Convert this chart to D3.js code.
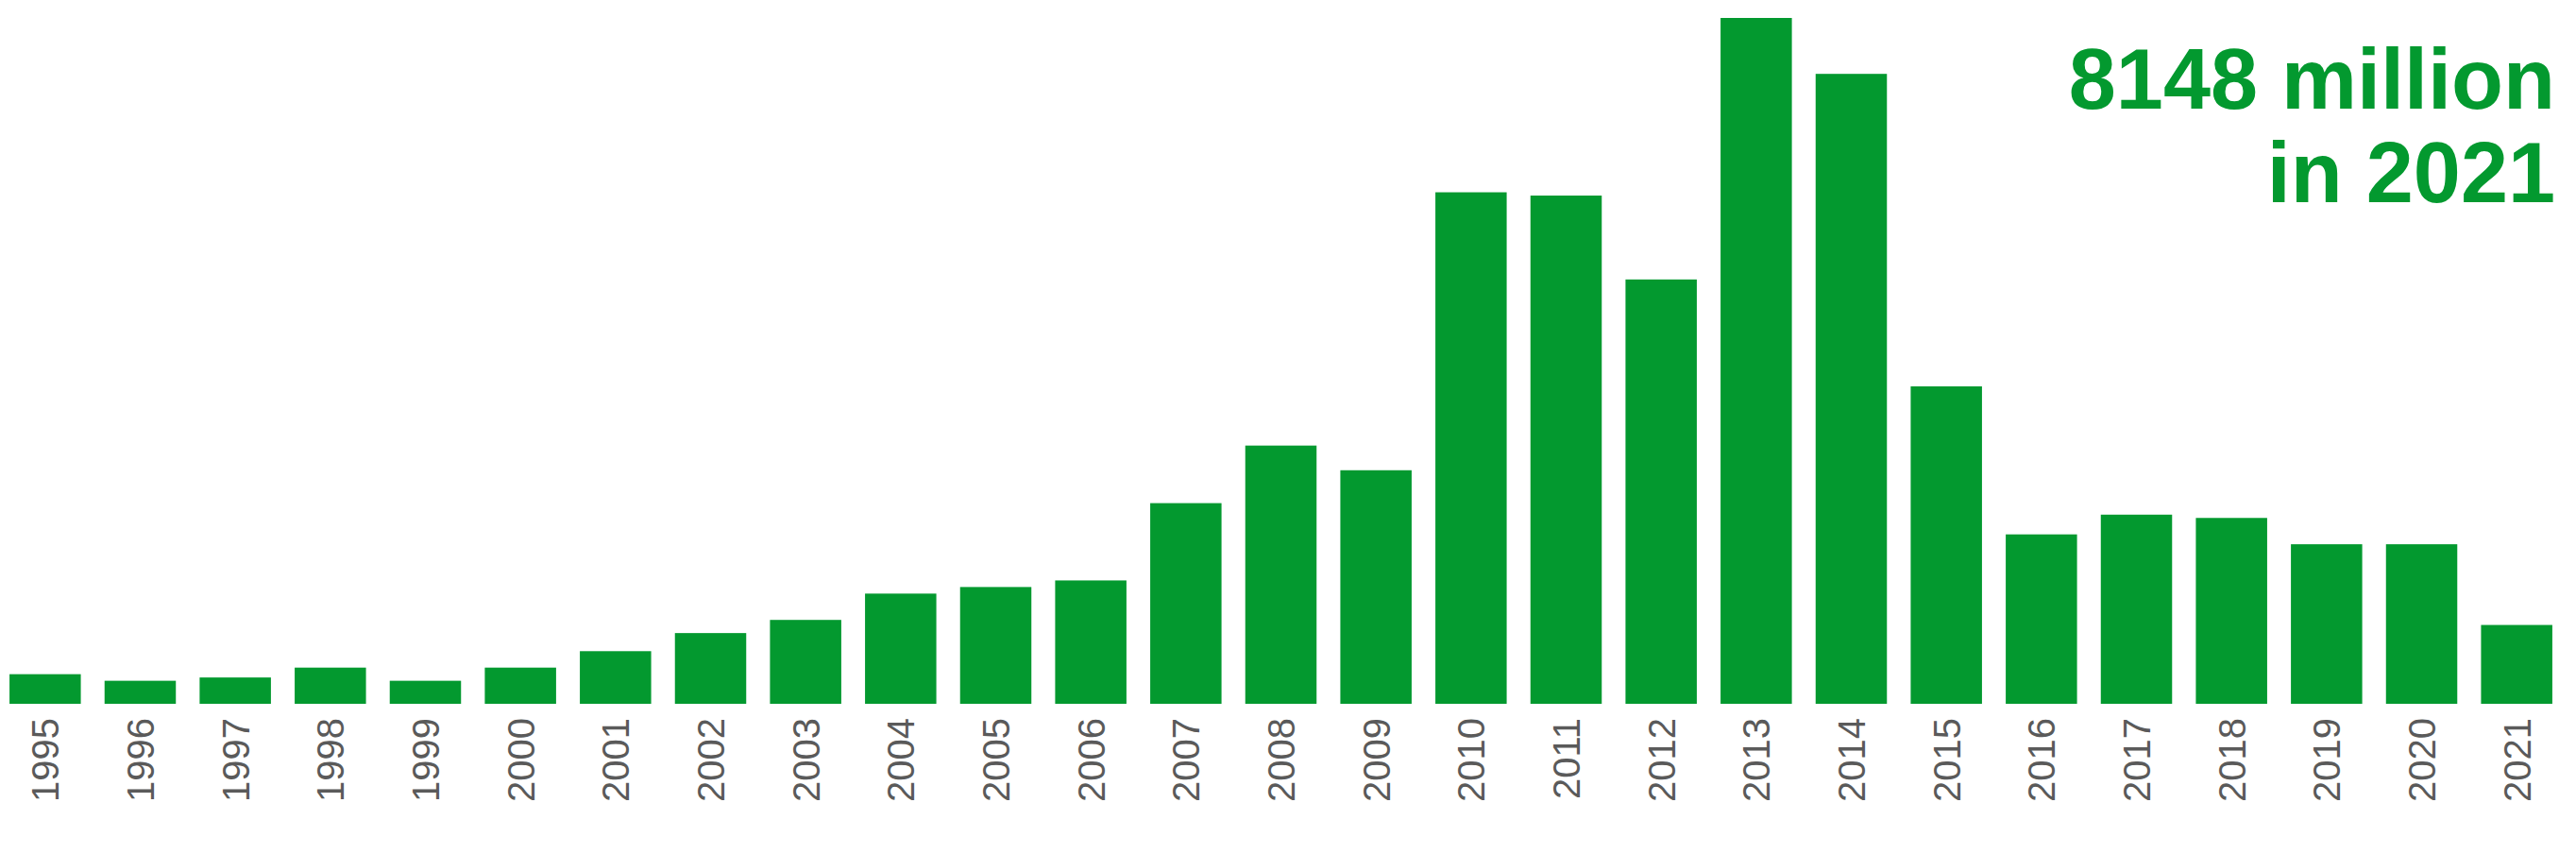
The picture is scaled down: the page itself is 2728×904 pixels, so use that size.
<!DOCTYPE html>
<html>
<head>
<meta charset="utf-8">
<script src="https://cdn.jsdelivr.net/npm/d3@7"></script>
<style>
  body { margin: 0; background: #fff; }
  text { font-family: "Liberation Sans", Arial, sans-serif; }
</style>
</head>
<body>
<svg id="chart" width="2728" height="904"></svg>
<script>
'use strict';

const years = ["1995","1996","1997","1998","1999","2000","2001","2002","2003","2004","2005","2006","2007",
    "2008","2009","2010","2011","2012","2013","2014","2015","2016","2017","2018","2019","2020","2021"];
// millions (2021 = 8148)
const values = [3060, 2380, 2720, 3740, 2380, 3740, 5440, 7310, 8670, 11390, 12070, 12750, 20740,
    26690, 24140, 52870, 52530, 43860, 70890, 65110, 32810, 17510, 19550, 19210, 16490, 16490, 8148];
const noteLines = ["8148 million", "in 2021"];

const GREEN = "#03992f";
const svg = d3.select("#chart");

const x = d3.scaleBand().domain(years).range([0, 2713]).paddingInner(0.25).paddingOuter(0.1);
const y = d3.scaleLinear().domain([0, d3.max(values)]).range([745, 19]);

// Barres
svg.selectAll("rect.bar")
    .data(years)
    .enter()
    .append("rect")
    .attr("class", "bar")
    .attr("x", d => x(d))
    .attr("width", x.bandwidth())
    .attr("y", (d, i) => y(values[i]))
    .attr("height", (d, i) => y(0) - y(values[i]))
    .attr("fill", GREEN);

// Axe des années (étiquettes verticales)
const axe = svg.append("g")
    .attr("transform", "translate(0,760)")
    .call(d3.axisBottom(x).tickSize(0).tickPadding(0));
axe.select(".domain").remove();
axe.selectAll("text")
    .attr("transform", "rotate(-90)")
    .attr("x", 0)
    .attr("y", 0)
    .attr("dy", "0.36em")
    .style("text-anchor", "end")
    .style("font-size", "40px")
    .style("fill", "#5a5a5a");

// Note en haut à droite
svg.selectAll("text.note")
    .data(noteLines)
    .enter()
    .append("text")
    .attr("class", "note")
    .attr("x", 2706)
    .attr("y", (d, i) => 115 + i * 99)
    .attr("text-anchor", "end")
    .style("font-size", "90px")
    .style("font-weight", "bold")
    .style("fill", GREEN)
    .text(d => d);
</script>
</body>
</html>
